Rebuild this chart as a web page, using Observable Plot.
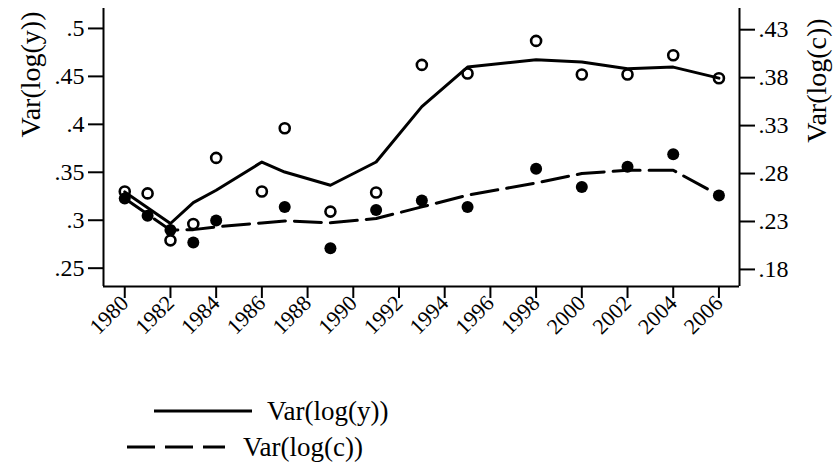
<!DOCTYPE html>
<html>
<head>
<meta charset="utf-8">
<script src="https://cdn.jsdelivr.net/npm/d3@7"></script>
<script src="https://cdn.jsdelivr.net/npm/@observablehq/plot@0.6"></script>
<style>
  html, body { margin: 0; padding: 0; background: #fff; }
  #wrap { width: 837px; height: 470px; position: relative; font-family: "Liberation Serif", "DejaVu Serif", serif; }
  #legend { position: absolute; left: 0; top: 345px; }
</style>
</head>
<body>
<div id="wrap"><div id="chart"></div><svg id="legend" width="837" height="125"></svg></div>
<script>
// ---- data ----
const years = [1980, 1981, 1982, 1983, 1984, 1986, 1987, 1989, 1991, 1993, 1995, 1998, 2000, 2002, 2004, 2006];
// Var(log(y)) observed (hollow circles, left axis)
const varY = [0.330, 0.328, 0.279, 0.296, 0.365, 0.330, 0.396, 0.309, 0.329, 0.462, 0.453, 0.487, 0.452, 0.452, 0.472, 0.448];
// Var(log(c)) observed (filled circles, right axis); 1986 not shown
const varC = [0.254, 0.236, 0.221, 0.208, 0.231, null, 0.245, 0.202, 0.242, 0.252, 0.245, 0.285, 0.266, 0.287, 0.300, 0.257];
// smoothed lines
const fitY = [0.3295, 0.313, 0.2966, 0.3184, 0.3313, 0.3607, 0.3503, 0.3365, 0.3607, 0.4185, 0.4597, 0.4674, 0.4649, 0.458, 0.4597, 0.4482];
const fitC = [0.254, 0.2375, 0.221, 0.2215, 0.2244, 0.2285, 0.2306, 0.2286, 0.2331, 0.2452, 0.2574, 0.2702, 0.280, 0.2834, 0.2834, 0.2574];
// ticks
const leftTicks = [0.25, 0.30, 0.35, 0.40, 0.45, 0.50];
const rightTicks = [0.18, 0.23, 0.28, 0.33, 0.38, 0.43];
const xTicks = [1980, 1982, 1984, 1986, 1988, 1990, 1992, 1994, 1996, 1998, 2000, 2002, 2004, 2006];
const titleY = "Var(log(y))";
const titleC = "Var(log(c))";

// right axis offset (right value + OFF = left-scale position)
const OFF = 0.0687;
const fmt = d => String(+(+d).toFixed(2)).replace(/^0\./, ".");

const rows = years.map((yr, i) => ({year: yr, y: varY[i], c: varC[i] == null ? null : varC[i] + OFF, fy: fitY[i], fc: fitC[i] + OFF}));
const xDom = [1979.07, 2006.9];
const yDom = [0.2309, 0.5208];
const FONT = "Liberation Serif, DejaVu Serif, serif";

const chart = Plot.plot({
  width: 837,
  height: 345,
  marginLeft: 103,
  marginRight: 98,
  marginTop: 8,
  marginBottom: 59,
  style: {fontFamily: FONT, fontSize: "24px", color: "#000", background: "#fff", overflow: "visible"},
  x: {domain: xDom},
  y: {domain: yDom},
  marks: [
    Plot.ruleX([xDom[0]], {stroke: "#000", strokeWidth: 2}),
    Plot.ruleX([xDom[1]], {stroke: "#000", strokeWidth: 2}),
    Plot.ruleY([yDom[0]], {stroke: "#000", strokeWidth: 2}),
    Plot.axisY({ticks: leftTicks, tickFormat: fmt, tickSize: 15, tickPadding: 4, strokeWidth: 2, label: null, fontSize: 24}),
    Plot.axisY({anchor: "right", ticks: rightTicks.map(t => t + OFF), tickFormat: d => fmt(d - OFF), tickSize: 15, tickPadding: 4, strokeWidth: 2, label: null, fontSize: 24}),
    Plot.axisX({ticks: xTicks, tickFormat: d => String(d), tickRotate: -45, tickSize: 12, tickPadding: 1, strokeWidth: 2, label: null, fontSize: 22}),
    Plot.text([titleY], {frameAnchor: "top-left", dx: -72, dy: 66, rotate: -90, textAnchor: "middle", lineAnchor: "middle", fontSize: 28, fill: "#000"}),
    Plot.text([titleC], {frameAnchor: "top-right", dx: 78, dy: 72, rotate: -90, textAnchor: "middle", lineAnchor: "middle", fontSize: 28, fill: "#000"}),
    Plot.line(rows, {x: "year", y: "fy", stroke: "#000", strokeWidth: 3, strokeLinejoin: "round"}),
    Plot.line(rows, {x: "year", y: "fc", stroke: "#000", strokeWidth: 3, strokeDasharray: "27,9", strokeLinejoin: "round"}),
    Plot.dot(rows, {x: "year", y: "y", r: 5, stroke: "#000", strokeWidth: 2.6, fill: "none"}),
    Plot.dot(rows.filter(d => d.c != null), {x: "year", y: "c", r: 6, fill: "#000", stroke: "none"})
  ]
});
document.getElementById("chart").appendChild(chart);

// legend
const lg = d3.select("#legend");
const items = [
  {label: titleY, x1: 154, x2: 252, tx: 267, y: 66, dash: null},
  {label: titleC, x1: 127, x2: 225, tx: 243, y: 102, dash: "28,10"}
];
items.forEach(it => {
  lg.append("line").attr("x1", it.x1).attr("x2", it.x2).attr("y1", it.y).attr("y2", it.y)
    .attr("stroke", "#000").attr("stroke-width", 3).attr("stroke-dasharray", it.dash);
  lg.append("text").attr("x", it.tx).attr("y", it.y).attr("dy", "0.35em")
    .attr("font-family", FONT).attr("font-size", 27).attr("fill", "#000").text(it.label);
});
</script>
</body>
</html>
